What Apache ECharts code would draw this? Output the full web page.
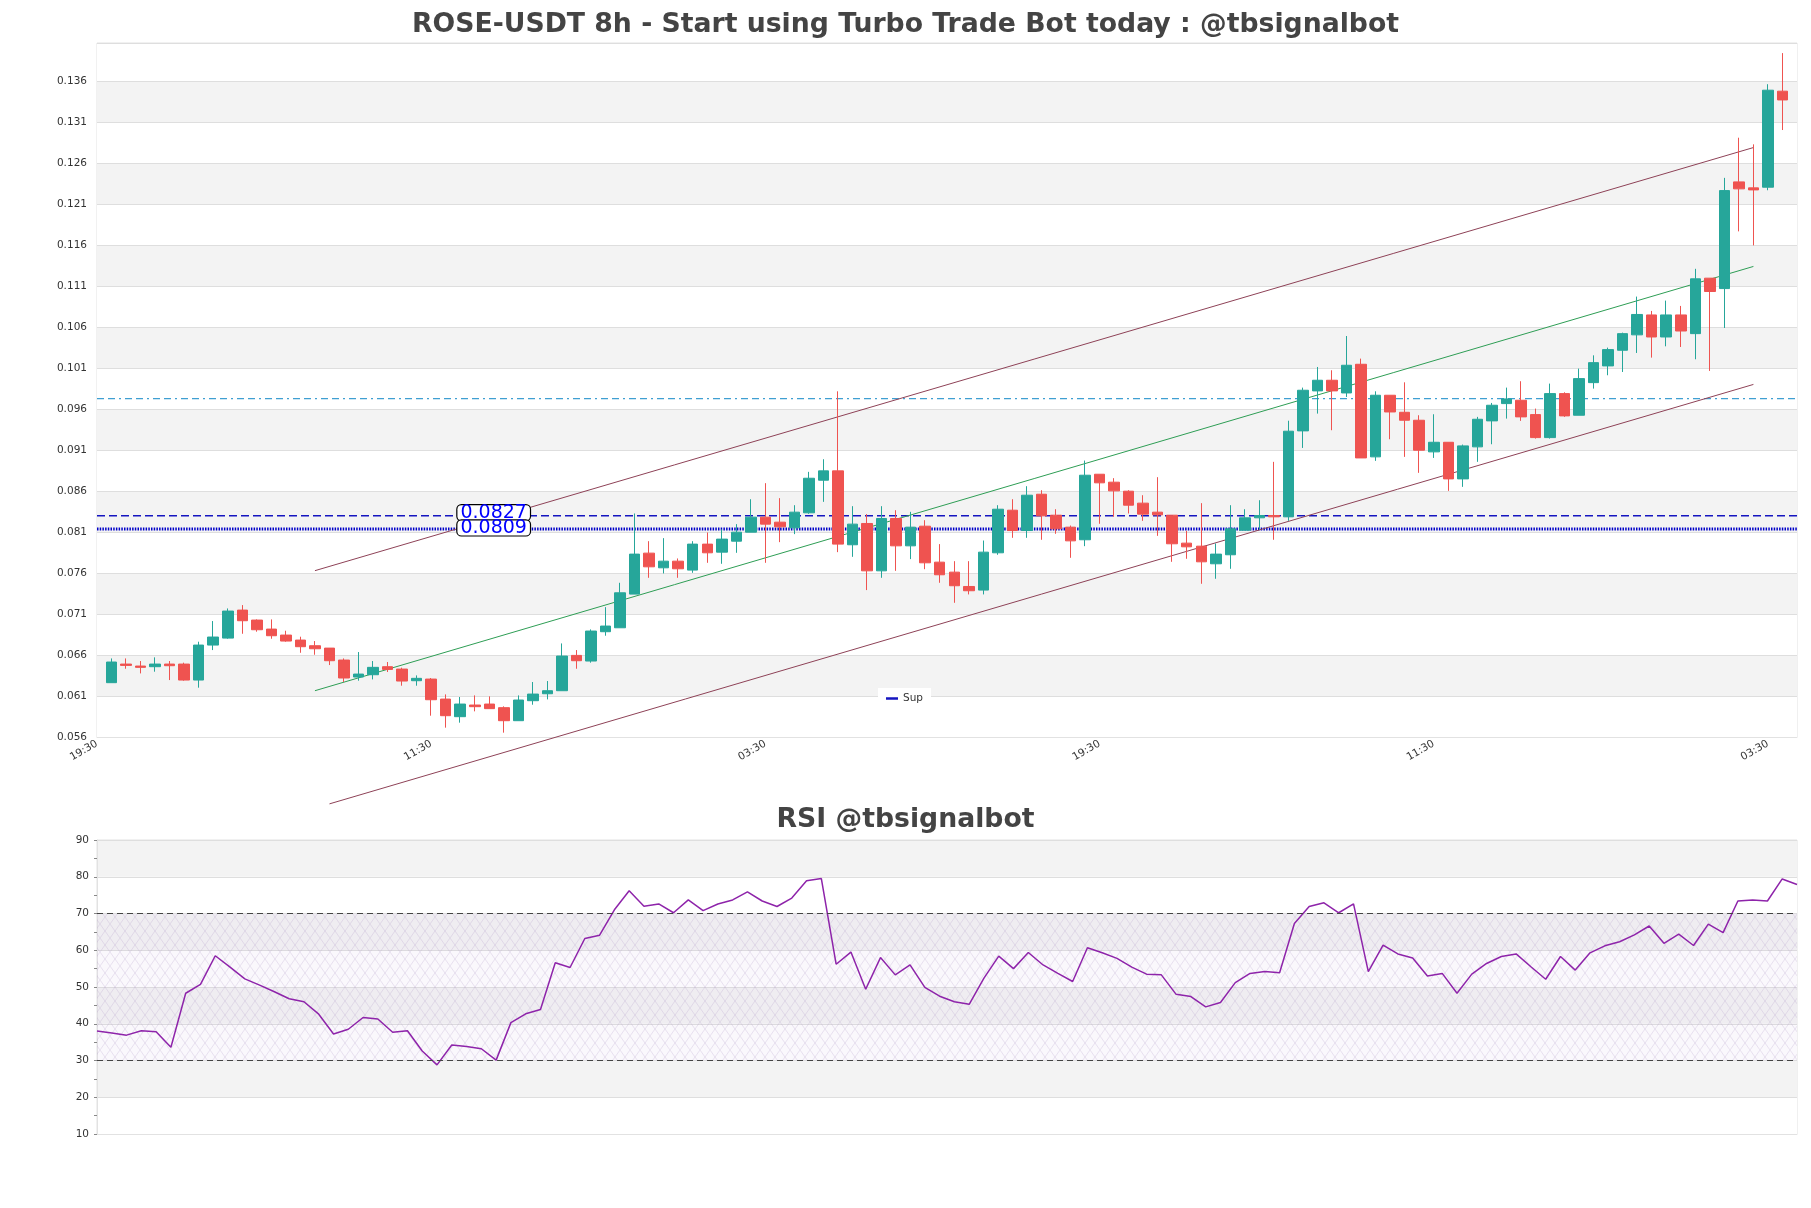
<!DOCTYPE html>
<html>
<head>
<meta charset="utf-8">
<script src="https://cdn.jsdelivr.net/npm/echarts@6/dist/echarts.min.js"></script>
<style>
html,body{margin:0;padding:0;background:#fff;}
#chart{width:1811px;height:1208px;}
</style>
</head>
<body>
<div id="chart"></div>
<script>
// ---------------- DATA ----------------
const tickLabels = ['19:30', '11:30', '03:30', '19:30', '11:30', '03:30'];

const opens = [
0.06263,0.06490,0.06466,0.06458,0.06490,0.06490,0.06295,0.06722,0.06807,0.07149,
0.07027,0.06917,0.06844,0.06783,0.06714,0.06685,0.06539,0.06332,0.06360,0.06458,
0.06429,0.06287,0.06307,0.06063,0.05848,0.05990,0.06002,0.05958,0.05799,0.06043,
0.06128,0.06165,0.06596,0.06527,0.06885,0.06933,0.07344,0.07844,0.07665,0.07746,
0.07637,0.07954,0.07856,0.07990,0.08100,0.08283,0.08222,0.08153,0.08336,0.08734,
0.08848,0.07946,0.08206,0.07628,0.08267,0.07933,0.08173,0.07734,0.07612,0.07437,
0.07393,0.07848,0.08368,0.08120,0.08563,0.08307,0.08161,0.08007,0.08807,0.08710,
0.08600,0.08454,0.08344,0.08307,0.07966,0.07929,0.07714,0.07824,0.08124,0.08275,
0.08303,0.08287,0.09336,0.09824,0.09954,0.09799,0.10149,0.09019,0.09771,0.09563,
0.09466,0.09080,0.09197,0.08750,0.09141,0.09458,0.09669,0.09710,0.09535,0.09254,
0.09791,0.09527,0.09925,0.10129,0.10320,0.10508,0.10751,0.10482,0.10751,0.10523,
0.11200,0.11073,0.12375,0.12302,0.12310,0.13482];
const closes = [
0.06515,0.06474,0.06450,0.06490,0.06470,0.06295,0.06722,0.06820,0.07137,0.07019,
0.06909,0.06836,0.06771,0.06702,0.06677,0.06531,0.06320,0.06368,0.06450,0.06425,
0.06283,0.06316,0.06055,0.05860,0.06002,0.05970,0.05946,0.05799,0.06051,0.06124,
0.06165,0.06588,0.06531,0.06893,0.06954,0.07360,0.07832,0.07677,0.07746,0.07653,
0.07954,0.07848,0.08015,0.08100,0.08283,0.08198,0.08165,0.08344,0.08758,0.08848,
0.07954,0.08198,0.07628,0.08267,0.07933,0.08161,0.07726,0.07580,0.07446,0.07385,
0.07856,0.08380,0.08120,0.08551,0.08299,0.08141,0.07994,0.08795,0.08702,0.08604,
0.08429,0.08320,0.08311,0.07958,0.07921,0.07738,0.07832,0.08141,0.08275,0.08303,
0.08287,0.09332,0.09832,0.09954,0.09824,0.10137,0.09006,0.09771,0.09567,0.09466,
0.09100,0.09197,0.08750,0.09153,0.09478,0.09649,0.09726,0.09507,0.09254,0.09791,
0.09519,0.09974,0.10169,0.10328,0.10523,0.10757,0.10482,0.10751,0.10555,0.11192,
0.11037,0.12269,0.12290,0.12277,0.13494,0.13375];
const lows = [
0.06263,0.06433,0.06376,0.06397,0.06295,0.06287,0.06202,0.06661,0.06799,0.06860,
0.06885,0.06799,0.06763,0.06628,0.06604,0.06478,0.06271,0.06287,0.06303,0.06393,
0.06226,0.06226,0.05860,0.05714,0.05775,0.05913,0.05946,0.05653,0.05799,0.05994,
0.06059,0.06165,0.06433,0.06507,0.06836,0.06933,0.07344,0.07543,0.07596,0.07543,
0.07604,0.07726,0.07714,0.07848,0.08100,0.07726,0.07978,0.08076,0.08324,0.08470,
0.07856,0.07799,0.07393,0.07543,0.07628,0.07771,0.07648,0.07482,0.07238,0.07340,
0.07340,0.07824,0.08031,0.08031,0.08007,0.08080,0.07787,0.07929,0.08202,0.08287,
0.08328,0.08238,0.08055,0.07738,0.07775,0.07470,0.07531,0.07653,0.08124,0.08133,
0.08007,0.08238,0.09128,0.09547,0.09344,0.09750,0.09006,0.08970,0.09234,0.09019,
0.08824,0.09006,0.08604,0.08653,0.08958,0.09173,0.09486,0.09458,0.09242,0.09242,
0.09507,0.09527,0.09852,0.10015,0.10055,0.10287,0.10230,0.10368,0.10360,0.10210,
0.10068,0.10592,0.11771,0.11600,0.12273,0.13008];
const highs = [
0.06559,0.06559,0.06527,0.06572,0.06527,0.06507,0.06763,0.07015,0.07169,0.07210,
0.07035,0.07035,0.06897,0.06824,0.06771,0.06685,0.06559,0.06637,0.06527,0.06515,
0.06446,0.06352,0.06320,0.06120,0.06088,0.06108,0.06096,0.05974,0.06108,0.06271,
0.06283,0.06742,0.06661,0.06913,0.07185,0.07482,0.08328,0.07990,0.08027,0.07779,
0.07990,0.08096,0.08133,0.08198,0.08502,0.08698,0.08515,0.08429,0.08836,0.08990,
0.09819,0.08417,0.08320,0.08417,0.08368,0.08348,0.08246,0.07954,0.07746,0.07746,
0.07998,0.08429,0.08502,0.08661,0.08612,0.08380,0.08181,0.08974,0.08807,0.08759,
0.08612,0.08551,0.08771,0.08307,0.08116,0.08454,0.07962,0.08429,0.08380,0.08490,
0.08958,0.09460,0.09864,0.10116,0.10076,0.10494,0.10218,0.09819,0.09771,0.09929,
0.09527,0.09539,0.09197,0.09169,0.09507,0.09677,0.09864,0.09942,0.09608,0.09913,
0.09807,0.10096,0.10258,0.10352,0.10535,0.10975,0.10800,0.10926,0.10861,0.11314,
0.11200,0.12424,0.12914,0.12833,0.13567,0.13947];

const rsiValues = [
38.0,37.5,36.9,38.1,37.8,33.6,48.3,50.7,58.5,55.4,
52.2,50.5,48.7,46.8,46.0,42.6,37.2,38.5,41.7,41.3,
37.7,38.1,32.6,28.8,34.2,33.8,33.2,30.1,40.3,42.7,
43.9,56.6,55.3,63.2,64.1,71.0,76.2,72.0,72.6,70.2,
73.7,70.8,72.6,73.7,75.9,73.4,71.9,74.2,78.9,79.5,
56.2,59.5,49.4,58.0,53.3,56.0,49.9,47.5,46.0,45.3,
52.4,58.4,55.0,59.4,56.0,53.7,51.5,60.7,59.3,57.8,
55.4,53.5,53.3,48.0,47.4,44.6,45.8,51.2,53.7,54.2,
53.9,67.3,71.9,72.9,70.2,72.6,54.2,61.4,59.0,57.9,
53.0,53.7,48.3,53.5,56.4,58.3,59.0,55.5,52.1,58.3,
54.6,59.3,61.2,62.3,64.2,66.6,61.9,64.4,61.3,67.1,
64.8,73.4,73.7,73.4,79.4,77.9];

// channel lines: [candle index, price]
const channelUpper = [[14, 0.07630], [113, 0.12794]];
const channelMiddle = [[14, 0.06165], [113, 0.11343]];
const channelLower = [[15, 0.04784], [113, 0.09903]];

// horizontal levels
const resistanceLevel = 0.0973;
const supportDashed = 0.0830;
const supportDotted = 0.0814;
const supportLabels = ['0.0827', '0.0809'];
const labelIndex = 26.3;

const rsiOverbought = 70;
const rsiOversold = 30;

// ---------------- BUILD ----------------
const X_MIN = -1, X_MAX = 116;
const candleData = opens.map((o, i) => [i, o, closes[i], lows[i], highs[i]]);
const rsiData = rsiValues.map((v, i) => [i, v]);
const hLine = v => [[X_MIN, v], [X_MAX, v]];

function hatchPattern() {
  const c = document.createElement('canvas');
  c.width = 10; c.height = 14;
  const ctx = c.getContext('2d');
  ctx.fillStyle = 'rgba(205,185,225,0.10)';
  ctx.fillRect(0, 0, 10, 14);
  ctx.strokeStyle = 'rgba(170,145,195,0.40)';
  ctx.lineWidth = 0.6;
  ctx.beginPath();
  ctx.moveTo(0, 0); ctx.lineTo(10, 14);
  ctx.moveTo(10, 0); ctx.lineTo(0, 14);
  ctx.stroke();
  return c;
}

const FONT = 'DejaVu Sans';
const chart = echarts.init(document.getElementById('chart'), null, {renderer: 'canvas'});

const option = {
  backgroundColor: '#ffffff',
  animation: false,
  textStyle: {fontFamily: FONT},
  title: [
    {text: 'ROSE-USDT 8h - Start using Turbo Trade Bot today : @tbsignalbot', left: 'center', top: 7,
     textStyle: {fontFamily: FONT, fontSize: 26.7, fontWeight: 'bold', color: '#444444'}},
    {text: 'RSI @tbsignalbot', left: 'center', top: 802,
     textStyle: {fontFamily: FONT, fontSize: 26.7, fontWeight: 'bold', color: '#444444'}}
  ],
  legend: {
    data: ['Sup'], left: 878, top: 688, backgroundColor: '#ffffff', padding: [5, 8],
    icon: 'rect', itemWidth: 12, itemHeight: 2.5, itemGap: 6,
    textStyle: {fontFamily: FONT, fontSize: 10.5, color: '#333'}
  },
  grid: [
    {left: 97, top: 43, width: 1700, height: 694, show: true, borderColor: '#e2e2e2', borderWidth: 1, backgroundColor: 'transparent'},
    {left: 97, top: 840, width: 1700, height: 294, show: true, borderColor: '#e2e2e2', borderWidth: 1, backgroundColor: 'transparent'}
  ],
  xAxis: [
    {type: 'value', gridIndex: 0, min: X_MIN, max: X_MAX, interval: 23,
     splitLine: {show: false}, axisTick: {show: false},
     axisLine: {show: true, lineStyle: {color: '#e2e2e2'}},
     axisLabel: {rotate: 30, fontSize: 10.5, color: '#333', margin: 6, showMaxLabel: false,
       formatter: function (v) { const k = (v + 1) / 23; return Number.isInteger(k) && tickLabels[k] ? tickLabels[k] : ''; }}},
    {type: 'value', gridIndex: 1, min: 0, max: 115,
     splitLine: {show: false}, axisTick: {show: false}, axisLabel: {show: false},
     axisLine: {show: true, lineStyle: {color: '#e2e2e2'}}}
  ],
  yAxis: [
    {type: 'value', gridIndex: 0, min: 0.056, max: 0.1407, interval: 0.005,
     axisLine: {show: false}, axisTick: {show: false},
     splitLine: {show: true, lineStyle: {color: '#dedede', width: 1}},
     splitArea: {show: true, areaStyle: {color: ['#ffffff', '#f3f3f3']}},
     axisLabel: {fontSize: 10.5, color: '#333', margin: 10, showMaxLabel: false,
       formatter: function (v) { return v.toFixed(3); }}},
    {type: 'value', gridIndex: 1, min: 10, max: 90, interval: 10,
     axisLine: {show: true, lineStyle: {color: '#e2e2e2'}},
     axisTick: {show: true, length: 3, lineStyle: {color: '#888'}},
     minorTick: {show: true, splitNumber: 2, length: 3, lineStyle: {color: '#888'}},
     splitLine: {show: true, lineStyle: {color: '#dedede'}},
     splitArea: {show: true, areaStyle: {color: ['#ffffff', '#f3f3f3']}},
     axisLabel: {fontSize: 10.5, color: '#333', margin: 8}}
  ],
  series: [
    {type: 'line', name: 'resistance', xAxisIndex: 0, yAxisIndex: 0, data: hLine(resistanceLevel),
     symbol: 'none', silent: true, lineStyle: {color: '#3f9fd2', width: 1.3, type: [7, 4, 7, 4, 2, 4]}},
    {type: 'line', name: 'Sup', xAxisIndex: 0, yAxisIndex: 0, data: hLine(supportDashed),
     symbol: 'none', silent: true, itemStyle: {color: '#1515c0'},
     lineStyle: {color: '#1515c0', width: 1.4, type: [8, 4]}},
    {type: 'line', name: 'supDotted', xAxisIndex: 0, yAxisIndex: 0, data: hLine(supportDotted),
     symbol: 'none', silent: true, lineStyle: {color: '#0000c8', width: 3, type: [1.5, 1.2]}},
    {type: 'line', name: 'upper', xAxisIndex: 0, yAxisIndex: 0, data: channelUpper, clip: false,
     symbol: 'none', lineStyle: {color: '#8e4257', width: 1}, silent: true},
    {type: 'line', name: 'middle', xAxisIndex: 0, yAxisIndex: 0, data: channelMiddle, clip: false,
     symbol: 'none', lineStyle: {color: '#2e9e55', width: 1}, silent: true},
    {type: 'line', name: 'lower', xAxisIndex: 0, yAxisIndex: 0, data: channelLower, clip: false,
     symbol: 'none', lineStyle: {color: '#8e4257', width: 1}, silent: true},
    {
      type: 'candlestick', name: 'price', xAxisIndex: 0, yAxisIndex: 0,
      data: candleData, barWidth: 11, z: 3,
      itemStyle: {color: '#26a69a', color0: '#ef5350', borderColor: '#26a69a', borderColor0: '#ef5350', borderWidth: 1},
      markPoint: {
        symbol: 'rect', symbolSize: 1, itemStyle: {color: 'rgba(0,0,0,0)'}, silent: true,
        label: {show: true, position: 'inside', fontFamily: FONT, fontSize: 19, color: '#0000ff',
          backgroundColor: '#ffffff', borderColor: '#000000', borderWidth: 1.2, borderRadius: 4, padding: [0, 3, -1, 3], lineHeight: 16},
        data: [
          {coord: [labelIndex, supportDashed], label: {formatter: supportLabels[0], offset: [0, -3]}},
          {coord: [labelIndex, supportDotted], label: {formatter: supportLabels[1], offset: [0, -1]}}
        ]
      }
    },
    {
      type: 'line', name: 'RSI', xAxisIndex: 1, yAxisIndex: 1, data: rsiData, symbol: 'none',
      lineStyle: {color: '#8e24aa', width: 1.5}, itemStyle: {color: '#8e24aa'},
      markArea: {silent: true, itemStyle: {color: {image: hatchPattern(), repeat: 'repeat'}},
        data: [[{yAxis: rsiOversold}, {yAxis: rsiOverbought}]]},
      markLine: {silent: true, symbol: ['none', 'none'], label: {show: false},
        lineStyle: {color: '#444', width: 1.2, type: [6, 4]},
        data: [{yAxis: rsiOverbought}, {yAxis: rsiOversold}]}
    }
  ]
};
chart.setOption(option);
</script>
</body>
</html>
